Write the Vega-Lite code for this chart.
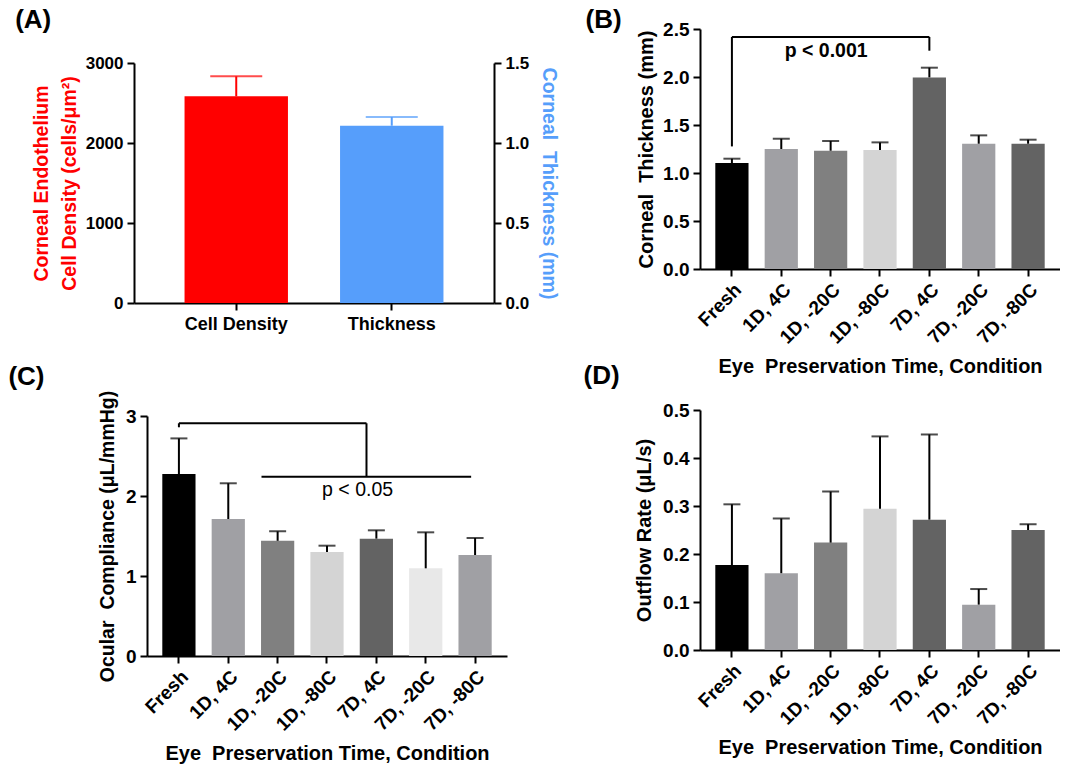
{
  "$schema": "https://vega.github.io/schema/vega-lite/v6.json",
  "background": "white",
  "padding": {"left": 8, "top": 7, "right": 0, "bottom": 0},
  "spacing": 24,
  "hconcat": [
    {
      "spacing": 31,
      "vconcat": [
        {
          "spacing": -23,
          "vconcat": [
            {
              "width": 1, "height": 1,
              "data": {"values": []},
              "mark": "point"
            },
            {
              "width": 360, "height": 240,
              "title": {"text": "(A)", "offset": 21, "dx": -16},
              "layer": [
                {
                  "data": {"values": [{"c": "Cell Density", "v": 2583, "e": 2833}]},
                  "layer": [
                    {"mark": {"type": "bar", "color": "#ff0000"},
                     "encoding": {
                       "x": {"field": "c", "type": "nominal", "scale": {"domain": ["Cell Density", "Thickness"], "paddingInner": 0.335, "paddingOuter": 0.325}, "axis": {"labelAngle": 0, "title": null, "labelPadding": 5, "labelFontSize": 18}},
                       "y": {"field": "v", "type": "quantitative", "scale": {"domain": [0, 3000], "nice": false}, "axis": {"values": [0, 1000, 2000, 3000], "format": "d", "labelFontSize": 17, "title": ["Corneal Endothelium", "Cell Density (cells/μm²)"], "titleColor": "#ff0000", "titleFontSize": 19.5, "titleLineHeight": 28, "titlePadding": 6}}
                     }},
                    {"mark": {"type": "rule", "color": "#ff0000", "strokeWidth": 2},
                     "encoding": {"x": {"field": "c", "type": "nominal"}, "y": {"field": "v", "type": "quantitative"}, "y2": {"field": "e"}}},
                    {"mark": {"type": "tick", "color": "#ff0000", "thickness": 2, "size": 52},
                     "encoding": {"x": {"field": "c", "type": "nominal"}, "y": {"field": "e", "type": "quantitative"}}}
                  ]
                },
                {
                  "data": {"values": [{"c": "Thickness", "v": 1.108, "e": 1.1625}]},
                  "layer": [
                    {"mark": {"type": "bar", "color": "#569efb"},
                     "encoding": {
                       "x": {"field": "c", "type": "nominal", "scale": {"domain": ["Cell Density", "Thickness"], "paddingInner": 0.335, "paddingOuter": 0.325}, "axis": {"labelAngle": 0, "title": null, "labelPadding": 5, "labelFontSize": 18}},
                       "y": {"field": "v", "type": "quantitative", "scale": {"domain": [0, 1.5], "nice": false}, "axis": {"orient": "right", "values": [0, 0.5, 1, 1.5], "format": ".1f", "labelFontSize": 17, "title": "Corneal\u00a0 Thickness (mm)", "titleColor": "#569efb", "titleFontSize": 19.5, "titlePadding": 10}}
                     }},
                    {"mark": {"type": "rule", "color": "#569efb", "strokeWidth": 2},
                     "encoding": {"x": {"field": "c", "type": "nominal"}, "y": {"field": "v", "type": "quantitative"}, "y2": {"field": "e"}}},
                    {"mark": {"type": "tick", "color": "#569efb", "thickness": 2, "size": 52},
                     "encoding": {"x": {"field": "c", "type": "nominal"}, "y": {"field": "e", "type": "quantitative"}}}
                  ]
                }
              ],
              "resolve": {"scale": {"y": "independent"}}
            }
          ]
        },
        {
          "spacing": -127,
          "hconcat": [
            {
              "width": 1, "height": 1,
              "data": {"values": []},
              "mark": "point"
            },
            {
              "width": 360, "height": 240,
              "title": {"text": "(C)", "offset": 0, "dx": -89},
              "layer": [
                {
                  "data": {"values": [
                    {"c": "Fresh", "v": 2.275, "e": 2.72, "col": "#000000"},
                    {"c": "1D, 4C", "v": 1.7125, "e": 2.159, "col": "#a0a0a4"},
                    {"c": "1D, -20C", "v": 1.44, "e": 1.558, "col": "#808080"},
                    {"c": "1D, -80C", "v": 1.3, "e": 1.379, "col": "#d4d4d4"},
                    {"c": "7D, 4C", "v": 1.467, "e": 1.571, "col": "#636363"},
                    {"c": "7D, -20C", "v": 1.096, "e": 1.546, "col": "#e8e8e8"},
                    {"c": "7D, -80C", "v": 1.2625, "e": 1.475, "col": "#a0a0a4"}
                  ]},
                  "layer": [
                    {"mark": {"type": "bar"},
                     "encoding": {
                       "x": {"field": "c", "type": "nominal", "sort": null, "scale": {"domain": ["Fresh", "1D, 4C", "1D, -20C", "1D, -80C", "7D, 4C", "7D, -20C", "7D, -80C"], "paddingInner": 0.327, "paddingOuter": 0.31}, "axis": {"labelAngle": -45, "title": "Eye\u00a0 Preservation Time, Condition", "titlePadding": 9}},
                       "y": {"field": "v", "type": "quantitative", "scale": {"domain": [0, 3], "nice": false}, "axis": {"values": [0, 1, 2, 3], "format": "d", "title": "Ocular\u00a0 Compliance (μL/mmHg)", "titleFontSize": 19.5, "titlePadding": 8}},
                       "color": {"field": "col", "type": "nominal", "scale": null}
                     }},
                    {"mark": {"type": "rule", "color": "#000000", "strokeWidth": 2},
                     "encoding": {"x": {"field": "c", "type": "nominal"}, "y": {"field": "v", "type": "quantitative"}, "y2": {"field": "e"}}},
                    {"mark": {"type": "tick", "color": "#000000", "thickness": 2, "size": 17},
                     "encoding": {"x": {"field": "c", "type": "nominal"}, "y": {"field": "e", "type": "quantitative"}}}
                  ]
                },
                {
                  "layer": [
                    {"data": {"values": [
                      {"x": 0, "x2": 3.8, "y": 2.909, "y2": 2.909},
                      {"x": 0, "x2": 0, "y": 2.859, "y2": 2.909},
                      {"x": 3.8, "x2": 3.8, "y": 2.241, "y2": 2.909},
                      {"x": 1.673, "x2": 5.92, "y": 2.241, "y2": 2.241}
                    ]},
                     "mark": {"type": "rule", "color": "#000000", "strokeWidth": 2},
                     "encoding": {"x": {"field": "x", "type": "quantitative", "scale": {"domain": [-0.6465, 6.6465], "nice": false, "zero": false}, "axis": null}, "x2": {"field": "x2"}, "y": {"field": "y", "type": "quantitative"}, "y2": {"field": "y2"}}},
                    {"data": {"values": [{"x": 3.62, "y": 2.07, "t": "p < 0.05"}]},
                     "mark": {"type": "text", "font": "Liberation Sans", "fontSize": 19.5, "color": "#000000", "align": "center", "baseline": "middle"},
                     "encoding": {"x": {"field": "x", "type": "quantitative", "axis": null}, "y": {"field": "y", "type": "quantitative"}, "text": {"field": "t"}}}
                  ]
                }
              ],
              "resolve": {"scale": {"x": "independent"}}
            }
          ]
        }
      ]
    },
    {
      "spacing": -14,
      "vconcat": [
        {
          "width": 360, "height": 240,
          "title": {"text": "(B)", "offset": -13, "dx": -51},
          "layer": [
            {
              "data": {"values": [
                {"c": "Fresh", "v": 1.104, "e": 1.149, "col": "#000000"},
                {"c": "1D, 4C", "v": 1.25, "e": 1.357, "col": "#a0a0a4"},
                {"c": "1D, -20C", "v": 1.232, "e": 1.333, "col": "#808080"},
                {"c": "1D, -80C", "v": 1.24, "e": 1.319, "col": "#d4d4d4"},
                {"c": "7D, 4C", "v": 1.996, "e": 2.097, "col": "#636363"},
                {"c": "7D, -20C", "v": 1.305, "e": 1.392, "col": "#a0a0a4"},
                {"c": "7D, -80C", "v": 1.305, "e": 1.347, "col": "#636363"}
              ]},
              "layer": [
                {"mark": {"type": "bar"},
                 "encoding": {
                   "x": {"field": "c", "type": "nominal", "sort": null, "scale": {"domain": ["Fresh", "1D, 4C", "1D, -20C", "1D, -80C", "7D, 4C", "7D, -20C", "7D, -80C"], "paddingInner": 0.327, "paddingOuter": 0.31}, "axis": {"labelAngle": -45, "title": "Eye\u00a0 Preservation Time, Condition", "titlePadding": 9}},
                   "y": {"field": "v", "type": "quantitative", "scale": {"domain": [0, 2.5], "nice": false}, "axis": {"values": [0, 0.5, 1, 1.5, 2, 2.5], "format": ".1f", "title": "Corneal\u00a0 Thickness (mm)", "titlePadding": 6}},
                   "color": {"field": "col", "type": "nominal", "scale": null}
                 }},
                {"mark": {"type": "rule", "color": "#000000", "strokeWidth": 2},
                 "encoding": {"x": {"field": "c", "type": "nominal"}, "y": {"field": "v", "type": "quantitative"}, "y2": {"field": "e"}}},
                {"mark": {"type": "tick", "color": "#000000", "thickness": 2, "size": 17},
                 "encoding": {"x": {"field": "c", "type": "nominal"}, "y": {"field": "e", "type": "quantitative"}}}
              ]
            },
            {
              "layer": [
                {"data": {"values": [
                  {"x": 0, "x2": 4, "y": 2.417, "y2": 2.417},
                  {"x": 0, "x2": 0, "y": 1.277, "y2": 2.417},
                  {"x": 4, "x2": 4, "y": 2.274, "y2": 2.417}
                ]},
                 "mark": {"type": "rule", "color": "#000000", "strokeWidth": 2},
                 "encoding": {"x": {"field": "x", "type": "quantitative", "scale": {"domain": [-0.6465, 6.6465], "nice": false, "zero": false}, "axis": null}, "x2": {"field": "x2"}, "y": {"field": "y", "type": "quantitative"}, "y2": {"field": "y2"}}},
                {"data": {"values": [{"x": 1.91, "y": 2.267, "t": "p < 0.001"}]},
                 "mark": {"type": "text", "font": "Liberation Sans", "fontWeight": "bold", "fontSize": 19.5, "color": "#000000", "align": "center", "baseline": "middle"},
                 "encoding": {"x": {"field": "x", "type": "quantitative", "axis": null}, "y": {"field": "y", "type": "quantitative"}, "text": {"field": "t"}}}
              ]
            }
          ],
          "resolve": {"scale": {"x": "independent"}}
        },
        {
          "width": 360, "height": 240,
          "title": {"text": "(D)", "offset": 12, "dx": -51},
          "data": {"values": [
            {"c": "Fresh", "v": 0.177, "e": 0.3035, "col": "#000000"},
            {"c": "1D, 4C", "v": 0.16, "e": 0.274, "col": "#a0a0a4"},
            {"c": "1D, -20C", "v": 0.2237, "e": 0.33, "col": "#808080"},
            {"c": "1D, -80C", "v": 0.2945, "e": 0.445, "col": "#d4d4d4"},
            {"c": "7D, 4C", "v": 0.2716, "e": 0.449, "col": "#636363"},
            {"c": "7D, -20C", "v": 0.0945, "e": 0.127, "col": "#a0a0a4"},
            {"c": "7D, -80C", "v": 0.25, "e": 0.262, "col": "#636363"}
          ]},
          "layer": [
            {"mark": {"type": "bar"},
             "encoding": {
               "x": {"field": "c", "type": "nominal", "sort": null, "scale": {"domain": ["Fresh", "1D, 4C", "1D, -20C", "1D, -80C", "7D, 4C", "7D, -20C", "7D, -80C"], "paddingInner": 0.327, "paddingOuter": 0.31}, "axis": {"labelAngle": -45, "title": "Eye\u00a0 Preservation Time, Condition", "titlePadding": 9}},
               "y": {"field": "v", "type": "quantitative", "scale": {"domain": [0, 0.5], "nice": false}, "axis": {"values": [0, 0.1, 0.2, 0.3, 0.4, 0.5], "format": ".1f", "title": "Outflow Rate (μL/s)", "titlePadding": 8}},
               "color": {"field": "col", "type": "nominal", "scale": null}
             }},
            {"mark": {"type": "rule", "color": "#000000", "strokeWidth": 2},
             "encoding": {"x": {"field": "c", "type": "nominal"}, "y": {"field": "v", "type": "quantitative"}, "y2": {"field": "e"}}},
            {"mark": {"type": "tick", "color": "#000000", "thickness": 2, "size": 17},
             "encoding": {"x": {"field": "c", "type": "nominal"}, "y": {"field": "e", "type": "quantitative"}}}
          ]
        }
      ]
    }
  ],
  "config": {
    "font": "Liberation Sans",
    "view": {"stroke": null},
    "axis": {
      "grid": false,
      "domainColor": "#000000", "domainWidth": 2,
      "tickColor": "#000000", "tickWidth": 2, "tickSize": 7,
      "labelFont": "Liberation Sans", "labelFontWeight": "bold", "labelColor": "#000000", "labelFontSize": 19, "labelPadding": 4,
      "titleFont": "Liberation Sans", "titleFontWeight": "bold", "titleColor": "#000000", "titleFontSize": 20
    },
    "title": {"font": "Liberation Sans", "fontWeight": "bold", "fontSize": 26, "anchor": "start", "frame": "bounds", "color": "#000000"}
  }
}
